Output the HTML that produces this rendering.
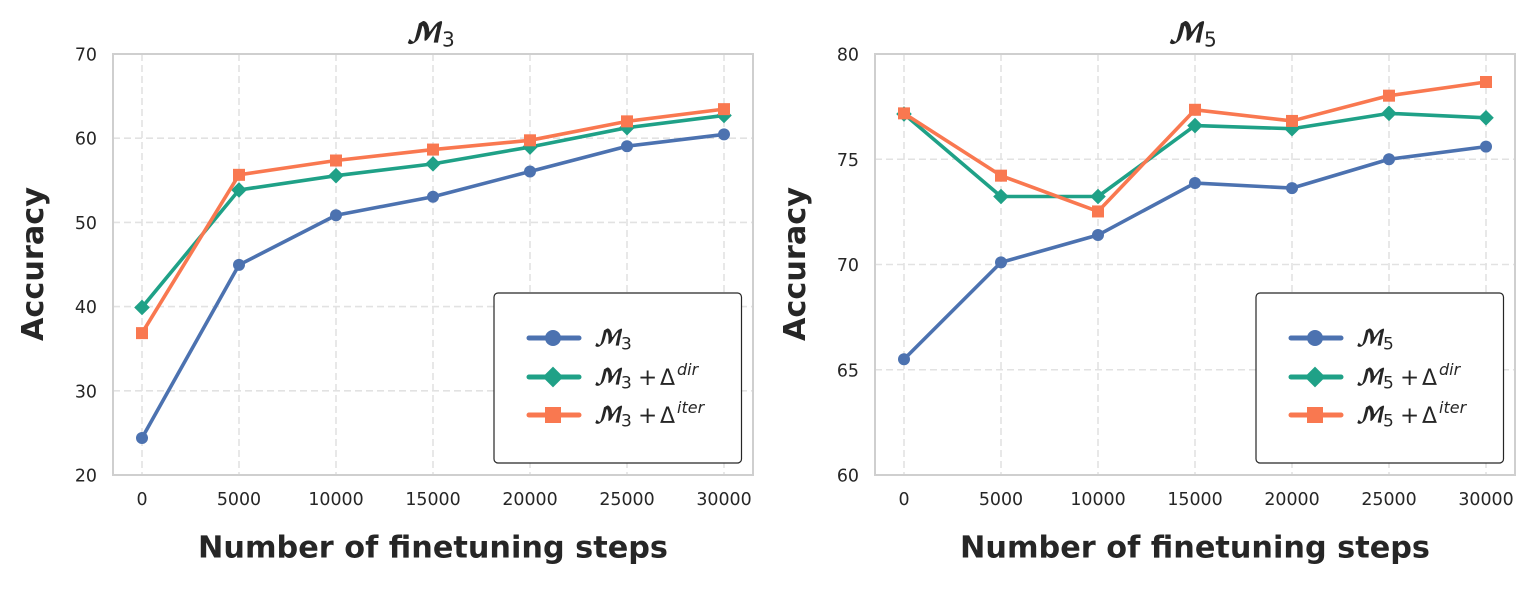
<!DOCTYPE html>
<html>
<head>
<meta charset="utf-8">
<style>
html,body{margin:0;padding:0;background:#fff;width:1538px;height:589px;overflow:hidden}
svg{display:block}
text{font-family:"DejaVu Sans","Liberation Sans",sans-serif;fill:#262626}
</style>
</head>
<body>
<svg id="chart" xmlns="http://www.w3.org/2000/svg" width="1538" height="589" viewBox="0 0 1538 589"></svg>
<script>
const steps = [0, 5000, 10000, 15000, 20000, 25000, 30000];
const xTickLabels = [0, 5000, 10000, 15000, 20000, 25000, 30000];
const leftYTicks = [20, 30, 40, 50, 60, 70];
const rightYTicks = [60, 65, 70, 75, 80];
const m3Base = [24.4, 44.95, 50.85, 53.05, 56.05, 59.05, 60.45];
const m3Dir = [39.9, 53.85, 55.55, 56.95, 58.95, 61.25, 62.7];
const m3Iter = [36.85, 55.65, 57.35, 58.65, 59.75, 62.0, 63.45];
const m5Base = [65.5, 70.1, 71.4, 73.87, 73.63, 75.0, 75.6];
const m5Dir = [77.15, 73.23, 73.23, 76.6, 76.45, 77.18, 76.97];
const m5Iter = [77.18, 74.22, 72.52, 77.35, 76.82, 78.02, 78.67];

const NS = 'http://www.w3.org/2000/svg';
const svg = document.getElementById('chart');
function mk(tag, attrs, parent, txt) {
  const e = document.createElementNS(NS, tag);
  for (const k in attrs) e.setAttribute(k, attrs[k]);
  if (txt !== undefined) e.textContent = txt;
  parent.appendChild(e);
  return e;
}
function marker(kind, x, y, color, size, g) {
  let m;
  if (kind === 'circle') m = mk('circle', {cx: x, cy: y, r: size}, g);
  else if (kind === 'diamond') m = mk('polygon', {points: (x - size * 1.3) + ',' + y + ' ' + x + ',' + (y - size * 1.3) + ' ' + (x + size * 1.3) + ',' + y + ' ' + x + ',' + (y + size * 1.3)}, g);
  else m = mk('rect', {x: x - size, y: y - size, width: size * 2, height: size * 2}, g);
  m.setAttribute('fill', color);
  return m;
}
/* Math label: script M, subscript digit, optional "+ Delta^suffix". */
function label(g, x, y, sub, suffix, mSize, subSize, subX) {
  const t = mk('text', {x: x, y: y}, g);
  mk('tspan', {'font-family': '"DejaVu Math TeX Gyre","DejaVu Sans","Liberation Serif",serif', 'font-size': mSize, stroke: '#fff', 'stroke-width': 0.8, 'stroke-linejoin': 'round'}, t, '𝓜');
  mk('tspan', {x: x + subX, 'font-size': subSize, dy: 3.5}, t, sub);
  if (suffix) {
    mk('tspan', {x: x + 45, 'font-size': 23, dy: -3.5}, t, '+');
    mk('tspan', {x: x + 67, 'font-size': 22}, t, 'Δ');
    mk('tspan', {x: x + 84, 'font-size': 16, 'font-style': 'italic', dy: -10}, t, suffix);
  }
  return t;
}

function panel(cfg) {
  const g = mk('g', {}, svg);
  
  
  const L = cfg.left, R = L + 640, T = 54, B = 475;
  const X = v => L + 29 + (v - steps[0]) / (steps[steps.length - 1] - steps[0]) * 582;
  const yMin = cfg.yTicks[0], yMax = cfg.yTicks[cfg.yTicks.length - 1];
  const Y = v => B - (v - yMin) / (yMax - yMin) * (B - T);

  const grid = mk('g', {stroke: '#e2e2e2', 'stroke-width': 1.6, 'stroke-dasharray': '7 4', fill: 'none'}, g);
  
  
  xTickLabels.forEach(v => mk('line', {x1: X(v), x2: X(v), y1: T, y2: B}, grid));
  cfg.yTicks.forEach(v => mk('line', {x1: L, x2: R, y1: Y(v), y2: Y(v)}, grid));

  const frame = mk('rect', {x: L, y: T, width: R - L, height: B - T, fill: 'none', stroke: '#cfcfcf', 'stroke-width': 2}, g);
  
  

  xTickLabels.forEach(v => {
    const t = mk('text', {x: X(v), y: 505, 'text-anchor': 'middle', 'font-size': 17.4}, g, String(v));
    
    
  });
  cfg.yTicks.forEach(v => {
    const t = mk('text', {x: L - 16, y: Y(v) + 6.5, 'text-anchor': 'end', 'font-size': 17.4}, g, String(v));
    
    
  });

  cfg.series.forEach(s => {
    const sg = mk('g', {}, g);
    
    
    mk('polyline', {points: s.values.map((v, i) => X(steps[i]) + ',' + Y(v)).join(' '), fill: 'none', stroke: s.color, 'stroke-width': 3.6, 'stroke-linejoin': 'round'}, sg);
    s.values.forEach((v, i) => marker(s.kind, X(steps[i]), Y(v), s.color, 6, sg));
  });

  const xt = mk('text', {x: L + 320, y: 557.5, 'text-anchor': 'middle', 'font-size': 30.3, 'font-weight': 'bold'}, g, 'Number of finetuning steps');
  
  
  const yt = mk('text', {x: 0, y: 0, 'text-anchor': 'middle', 'font-size': 30.3, 'font-weight': 'bold', transform: 'translate(' + (L - 70) + ',264) rotate(-90)'}, g, 'Accuracy');
  
  

  const title = label(g, L + 292, 43, cfg.sub, null, 28, 20, 37);
  
  

  const lg = mk('g', {}, g);
  
  
  const LX = L + 381;
  mk('rect', {x: LX, y: 293, width: 247.5, height: 170, rx: 4, ry: 4, fill: '#fff', stroke: '#262626', 'stroke-width': 1.2}, lg);
  const rows = [338, 377, 415];
  const sufs = [null, 'dir', 'iter'];
  cfg.series.forEach((s, i) => {
    const e = mk('g', {}, lg);
    
    
    mk('line', {x1: LX + 35, x2: LX + 85, y1: rows[i], y2: rows[i], stroke: s.color, 'stroke-width': 5, 'stroke-linecap': 'round'}, e);
    marker(s.kind, LX + 59, rows[i], s.color, 8, e);
    label(e, LX + 99, rows[i] + 8, cfg.sub, sufs[i], 22, 17, 28);
  });
}

const BLUE = '#4c72b0', GREEN = '#1fa187', ORANGE = '#f97850';
panel({
  name: 'panel-m3', left: 113, sub: '3', yTicks: leftYTicks,
  series: [
    {name: 'series-m3', values: m3Base, color: BLUE, kind: 'circle'},
    {name: 'series-m3-dir', values: m3Dir, color: GREEN, kind: 'diamond'},
    {name: 'series-m3-iter', values: m3Iter, color: ORANGE, kind: 'square'}
  ]
});
panel({
  name: 'panel-m5', left: 875, sub: '5', yTicks: rightYTicks,
  series: [
    {name: 'series-m5', values: m5Base, color: BLUE, kind: 'circle'},
    {name: 'series-m5-dir', values: m5Dir, color: GREEN, kind: 'diamond'},
    {name: 'series-m5-iter', values: m5Iter, color: ORANGE, kind: 'square'}
  ]
});
</script>
</body>
</html>
